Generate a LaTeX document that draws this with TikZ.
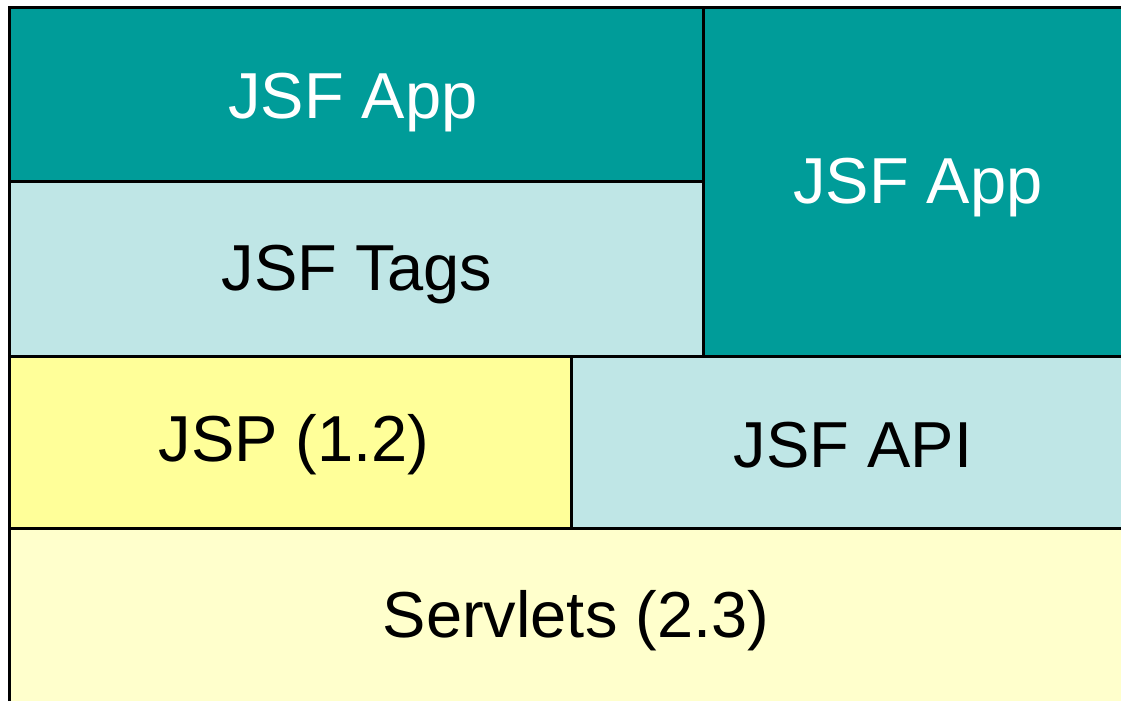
\documentclass[tikz,border=0pt]{standalone}
\usepackage{fontspec}
\setmainfont{Liberation Sans}
\definecolor{teal1}{RGB}{0,156,153}
\definecolor{cyan1}{RGB}{191,230,230}
\definecolor{yel1}{RGB}{255,255,153}
\definecolor{yel2}{RGB}{255,255,204}
\begin{document}
\begin{tikzpicture}[x=1pt,y=-1pt,
  lbl/.style={font=\fontsize{65}{72}\selectfont, inner sep=0pt, anchor=center},
  wlbl/.style={lbl, text=white},
  bline/.style={line width=3pt, black}]
\useasboundingbox (0,0) rectangle (1121,701);
\fill[white] (0,0) rectangle (1121,701);
% fills
\fill[teal1] (9.5,7.5) rectangle (703.5,181.5);
\fill[cyan1] (9.5,181.5) rectangle (703.5,356.5);
\fill[teal1] (703.5,7.5) rectangle (1121,356.5);
\fill[yel1] (9.5,356.5) rectangle (571.5,528.5);
\fill[cyan1] (571.5,356.5) rectangle (1121,528.5);
\fill[yel2] (9.5,528.5) rectangle (1121,701);
% lines
\draw[bline] (9.5,701) -- (9.5,7.5) -- (1121,7.5);
\draw[bline] (9.5,181.5) -- (703.5,181.5);
\draw[bline] (703.5,7.5) -- (703.5,356.5);
\draw[bline] (9.5,356.5) -- (1121,356.5);
\draw[bline] (571.5,356.5) -- (571.5,528.5);
\draw[bline] (9.5,528.5) -- (1121,528.5);
% labels
\node[wlbl] (app1) at (353,103) {JSF App};
\node[wlbl] (app2) at (918,188) {JSF App};
\node[lbl] (tags) at (357,275) {JSF Tags};
\node[lbl] (jsp) at (294,445) {JSP (1.2)};
\node[lbl] (api) at (853,445) {JSF API};
\node[lbl] (serv) at (576,621) {Servlets (2.3)};
\end{tikzpicture}
\end{document}
